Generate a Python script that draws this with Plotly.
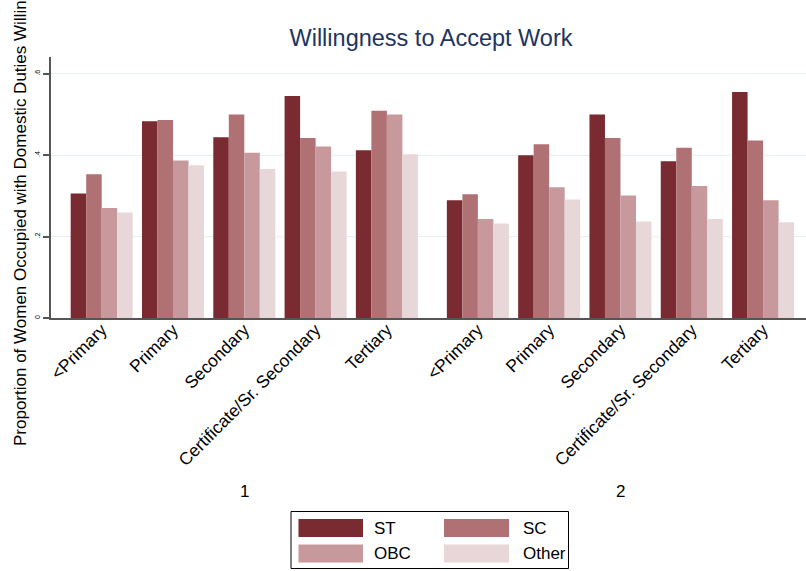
import plotly.graph_objects as go

# ---- data ----
categories = ["<Primary", "Primary", "Secondary", "Certificate/Sr. Secondary", "Tertiary"]
groups = ["1", "2"]
series_names = ["ST", "SC", "OBC", "Other"]
st_vals = [0.306, 0.483, 0.444, 0.545, 0.412, 0.289, 0.400, 0.500, 0.385, 0.555]
sc_vals = [0.353, 0.486, 0.500, 0.442, 0.509, 0.304, 0.427, 0.442, 0.418, 0.436]
obc_vals = [0.270, 0.387, 0.406, 0.421, 0.500, 0.243, 0.321, 0.301, 0.324, 0.289]
other_vals = [0.259, 0.375, 0.366, 0.360, 0.402, 0.232, 0.291, 0.237, 0.243, 0.235]
y_ticks = [0, 0.2, 0.4, 0.6]
y_ticklabels = ["0", ".2", ".4", ".6"]

colors = ["#7A2B32", "#B07174", "#C8999C", "#E8D7D8"]
series_vals = [st_vals, sc_vals, obc_vals, other_vals]

# layout geometry
W, H = 806, 571
ML, MR, MT, MB = 51, 0, 57, 253
PW = W - ML - MR
PH = H - MT - MB
GROUP_OFFSET = 5.276

xpos = []
xlabels = []
for g in range(len(groups)):
    for i, c in enumerate(categories):
        xpos.append(i + g * GROUP_OFFSET)
        xlabels.append(c)

def px_x(px):
    return (px - ML) / PW

def px_y(py):
    return (H - MB - py) / PH

FONT = "Liberation Sans, Arial, sans-serif"

fig = go.Figure()
for name, vals, col in zip(series_names, series_vals, colors):
    fig.add_trace(go.Bar(
        x=xpos, y=vals, name=name, marker=dict(color=col, line=dict(width=0)),
        showlegend=False,
    ))

fig.update_layout(
    width=W, height=H,
    margin=dict(l=ML, r=MR, t=MT, b=MB, pad=0),
    paper_bgcolor="white", plot_bgcolor="white",
    barmode="group", bargap=0.13, bargroupgap=0,
    font=dict(family=FONT, color="black"),
    title=dict(text="Willingness to Accept Work", x=px_x(431), xref="paper", xanchor="center",
               y=1 - 38 / H, yanchor="middle",
               font=dict(size=23.5, color="#1E3461", family=FONT)),
)

fig.update_xaxes(
    range=[-(101.7 - ML) / 71.3, (W - 101.7) / 71.3],
    tickmode="array", tickvals=xpos, ticktext=xlabels,
    tickangle=-45, tickfont=dict(size=17.4, color="black"),
    ticklabelstandoff=-7,
    showline=True, linecolor="#555555", linewidth=1.5,
    showgrid=False, zeroline=False, ticks="", ticklen=0,
)
fig.update_yaxes(
    range=[0, 0.641],
    tickmode="array", tickvals=y_ticks, ticktext=y_ticklabels,
    tickangle=-90, tickfont=dict(size=7, color="black"),
    showline=True, linecolor="#555555", linewidth=1.5,
    ticks="outside", ticklen=6, tickcolor="#555555", tickwidth=1.5,
    showgrid=True, gridcolor="#E6EFF1", gridwidth=1,
    zeroline=False,
)

# y-axis title (clipped at top as in the reference)
fig.add_annotation(
    text="Proportion of Women Occupied with Domestic Duties Willing to Accept Work",
    xref="paper", yref="paper", x=px_x(20), y=px_y(448),
    xanchor="center", yanchor="bottom", textangle=-90, showarrow=False,
    font=dict(size=17, color="black", family=FONT),
)

# group labels
for g, lab in enumerate(groups):
    gx = [xpos[g * len(categories) + i] for i in range(len(categories))]
    fig.add_annotation(
        text=lab, xref="x", yref="paper", x=sum(gx) / len(gx), y=px_y(492),
        xanchor="center", yanchor="middle", showarrow=False,
        font=dict(size=17, color="black", family=FONT),
    )

# custom legend
fig.add_shape(type="rect", xref="paper", yref="paper",
              x0=px_x(291), x1=px_x(568.5), y0=px_y(511.5), y1=px_y(568.5),
              line=dict(color="black", width=1), fillcolor="white")
col_sw = [(298.5, 363, 372), (444, 509, 521)]
row_y = [(519, 537), (544.5, 562.5)]
for k, (name, col) in enumerate(zip(series_names, colors)):
    r, c = divmod(k, 2)
    sx0, sx1, tx = col_sw[c]
    sy0, sy1 = row_y[r]
    fig.add_shape(type="rect", xref="paper", yref="paper",
                  x0=px_x(sx0), x1=px_x(sx1), y0=px_y(sy0), y1=px_y(sy1),
                  line=dict(width=0), fillcolor=col)
    fig.add_annotation(text=name, xref="paper", yref="paper",
                       x=px_x(tx), y=px_y((sy0 + sy1) / 2),
                       xanchor="left", yanchor="middle", showarrow=False,
                       font=dict(size=17, color="black", family=FONT))

fig.write_html("out.html", config={"displayModeBar": False},
               post_script="document.body.style.margin='0';")
